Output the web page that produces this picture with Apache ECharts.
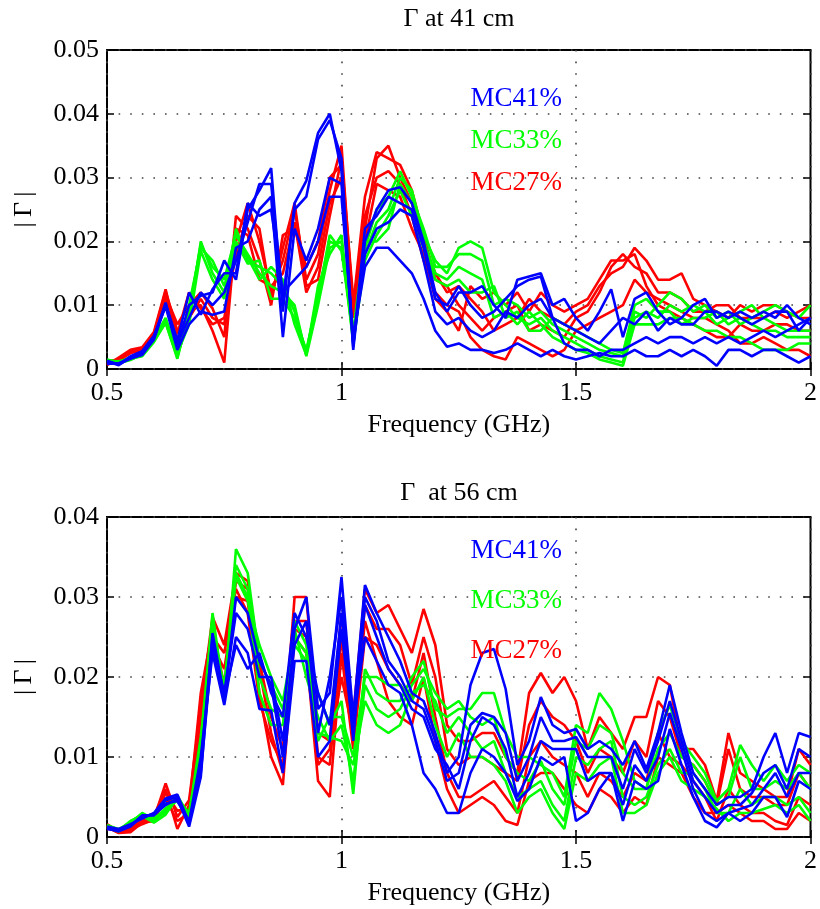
<!DOCTYPE html>
<html>
<head>
<meta charset="utf-8">
<script src="https://cdn.jsdelivr.net/npm/echarts@6/dist/echarts.min.js"></script>
<style>
html,body{margin:0;padding:0;background:#fff;}
#chart{width:820px;height:909px;}
</style>
</head>
<body>
<div id="chart"></div>
<script>
// Frequency axis (GHz)
const freqGHz = [0.5,0.525,0.55,0.575,0.6,0.625,0.65,0.675,0.7,0.725,0.75,0.775,0.8,0.825,0.85,0.875,0.9,0.925,0.95,0.975,1,
1.025,1.05,1.075,1.1,1.125,1.15,1.175,1.2,1.225,1.25,1.275,1.3,1.325,1.35,1.375,1.4,1.425,1.45,1.475,1.5,
1.525,1.55,1.575,1.6,1.625,1.65,1.675,1.7,1.725,1.75,1.775,1.8,1.825,1.85,1.875,1.9,1.925,1.95,1.975,2];

// |Gamma| values in units of 1e-3 — top panel (41 cm)
const top41_MC41_a = [1.2,0.6,1.8,2.5,5,10.4,3.5,10,11.5,12, 17,14,25,28,31.5,9,26,29.5,37,40, 31,3,20,25,28,28.5,26,20,12,9, 12,12,13,10,8,14,14.5,15,10,11, 8,6,9,12.5,5,11,12,9,7,8, 10,11,8,9,8,7,8,9,9,6, 8];
const top41_MC41_b = [1.0,0.8,1.6,2.3,4.6,10,4,8,12,10, 12,17,23,29,29,11,25,27,36,39, 33,3.5,22,24,27,26,25,19,11,10, 13,10,8,9,11,13,14,14.5,8,7, 6,5,4,6,8,7,9,6,8,7, 7,9,9,8,9,8,9,8,10,8, 7];
const top41_MC41_c = [1.3,0.7,2.0,2.8,5.2,9.8,3,7,9,8.5, 9,19,20,25,27,5,22,17,22,30, 29,4,18,22,23,25,24,17,9,7, 8,6,5,6,9,8,10,11,8,4, 3,3,2,3,3,4,5,4,5,5, 4,5,4,5,4,5,6,5,6,7, 8];
const top41_MC41_d = [0.8,0.9,1.7,2.2,4.8,10.2,4.5,12,8.5,12.5, 15,15,26,24,25,12,14,16,20,27, 27,5,16,19,19,17,15,11,6,3.5, 4,3,3,2.5,3,4,3,2,3,2, 1.5,2,2.5,2,2,3,2,2,3,2, 3,2,0.5,3,3,2,3,3,2,1, 2];

const top41_MC33_a = [1.5,1.0,1.5,2.2,4.5,7.8,2,8,20,15, 12,22,17,16,15,13,9,2.5,12,20, 19,4.5,18,23,25,30,28,21,17,15, 19,20,19,12,10,8,7,8,6,5, 4,3,2,1.5,1,9,8,10,12,11, 9,10,8,9,7,8,9,10,9,8, 10];
const top41_MC33_b = [1.3,1.2,1.6,2.0,4.2,7.4,1.6,9,19.5,16, 14,21,18,15,13,12,10,2,10,19, 20,5,19,25,27,31,27,22,16,16, 18,18,17,10,11,10,8,9,7,6, 5,4,3,2.5,2,8,9,8,10,9, 10,9,7,8,9,10,8,7,6,6, 6];
const top41_MC33_c = [1.2,0.9,1.4,2.4,4.8,8,2.5,7,18.5,14, 11,20,16.5,17,11,11,8,3,11,21, 18.5,6,20,20,22,29,26,20,15,14, 16,15,14,8,9,7,9,7,5,4, 3,2.5,1.5,1,0.5,7,7,7,8,8, 7,6,6,5,5,4,3,3,3,4, 4];
const top41_MC33_d = [1.4,1.1,1.8,2.1,4.4,7.2,1.8,10,19,17, 13,19.5,17.5,14,16,14,7,2.2,13,18, 21,4,17,21,24,28,24,19,14,13, 14,12,12,13,8,9,6,6,8,7, 6,5,4,3,2.5,10,11,9,9,7, 8,8,9,7,8,7,6,6,5,5, 5];

const top41_MC27_a = [0.8,1.6,2.8,3.2,5.5,12.2,6,8,11,8, 7,20,26,20,12,17,25,14,18,28, 35,9,22,33,35,30,26,20,15,12, 13,11,9,6,7,8,11,9,8,7, 9,10,13,15,16,19,17,14,14,15, 11,10,9,8,10,9,10,10,9,8, 8];
const top41_MC27_b = [1.0,1.3,2.5,3.0,5.0,11.5,7,10,12,9.5, 5,24,22,17,10,21,22,16,20,30, 32,10,27,34,33,32,28,21,14,13, 10,8,6,8,9,10,6,7,6,5, 8,9,12,16,18,16,15,12,12,11, 9,9,10,10,8,8,8,9,8,9, 10];
const top41_MC27_c = [0.6,1.8,3.0,3.4,5.8,12.5,4.5,9,10,6, 1,22,21,14,13,15,23,12,16,26, 30,8,24,30,31,29,24,17,12,10, 9,5,3,2,1.5,5,4,3,2,3, 6,7,8,9,10,14,12,11,10,9, 8,8,7,6,4,4,5,4,3,3, 2];
const top41_MC27_d = [1.2,1.5,2.6,2.9,5.2,11,5.5,12,9.5,7, 8,18,24,22,11,19,26,13,14,24, 33,11,20,29,28,27,22,18,11,9, 6,13,11,12,10,12,9,12,10,9, 10,11,14,17,17,18,13,10,9,8, 7,6,5,5,7,6,6,7,7,6, 6];

// |Gamma| values in units of 1e-3 — bottom panel (56 cm)
const bot56_MC41_a = [1.2,0.9,1.5,2.5,2.9,4.6,5,1.5,9,25, 17,30,28,22,19,10,26,30,16,18, 32.5,15,31.5,28,25,22,18,17,13,8, 10,19,23,23.5,18.5,9,12,17.5,14,13, 13.5,11,12,11,9,12,8.5,13,19,13, 8,6,4,5,5,6,10,13,8,13, 12.5];
const bot56_MC41_b = [1.0,0.8,1.4,2.7,2.7,4.2,4.5,2,8,24, 18,28,26,20,20,12,24,27,13,20, 30,12,30,27,22,20,17,16,12,7, 8,14,15.5,15,13,7,10,15,12,12, 12.5,10,10,10,6,11,8,12,17,12, 7,5,3,4,4,5.5,8,9,6,11, 10];
const bot56_MC41_c = [1.3,1.0,1.6,2.3,3.0,4.8,5.3,1.8,10,23, 16.5,25,23,16,15.8,8,22,22,10,12, 26,13,29,25,21,19,16,15,11,9, 6,12,15,14,11,5,8,12,11,11, 11,7,8,8,4,9,7,10,15.5,11, 6,3,2,3,3.5,4,6,8,5,8, 8];
const bot56_MC41_d = [1.1,0.7,1.3,2.6,2.8,4.0,4.8,1.3,7.5,25.5, 17.5,24,21,23,18,15,28,25,18,14, 28,14,25,22,19,18,14,8,6,3, 3,8,11,10,8,4.5,6,10,9,10, 2,3,6,8,2,7,6,7,13.5,9, 5,2,1.2,3,2,3,5,5,2.5,7, 6];

const bot56_MC33_a = [1.5,0.9,1.9,2.9,2.0,3.3,5.2,2.5,12,28, 17.5,36,33,22,19,16,24,22,18,14, 17,5.4,21,18,17,17,20,22,16,15, 16,16,18,18,13,10,10,9,8,5, 14,13,18,16,12,7,6,13,16.5,12, 10,8,4.5,6,11.5,9,7,9,7,9, 8];
const bot56_MC33_b = [1.3,0.8,2.0,2.7,2.5,3.0,4.8,3.0,11,27, 18,34,31,20,16,15,26,20,15,12, 14,7,19,16,15,16,19,21,18,16, 17,15,14,15,10,8,7,9.5,6,4, 12,11,14,13,8,6,6,11,13,10, 9,7,4,5,10,6,6,7,6,8, 6];
const bot56_MC33_c = [1.4,1.0,1.7,3.0,2.2,3.6,4.5,2.2,10,26, 17,33,30,18,14,14,27,24,13,12.5, 12,9,17,14,13,14,18,19,17,13, 15,13,11,12,8,5,6,7,4,2, 10,9,11,12,5,4,5,9,11,8, 8,6,3,3,6,4,5,5,4,5, 3];
const bot56_MC33_d = [1.2,0.7,1.8,2.6,1.8,2.8,5.0,2.8,12.5,25, 19,32.5,29.5,24,20,17,25,23,12,15, 15,10,20,20,19,19,17,20,14,10, 13,10,10,9,7,3,5,6,3,1, 8,7,9,10,3,3,4,8,10,7, 6,5,3.5,2,3,3,3.5,4,3,4, 2];

const bot56_MC27_a = [1.6,0.7,0.8,2.0,2.3,6.7,2.5,4.6,16,27.5, 24,33,32,22,15,11,30,30,13,12, 28,15,31,28,29,26,23,28.5,24,14, 12,12,13,13,10,8,18,20.5,18,20, 17,11,15,13,11,15,15,20,19,11, 11,9,4.5,13,8,7,6,5,5,11, 9];
const bot56_MC27_b = [1.2,0.5,0.6,1.8,2.0,5.5,3.3,3.5,18,26, 19,32,31,21,13,8,27,27,10,9, 25,12,29,26,26,24,19,25,20,11, 9,10,10,9,8,7,14,17,15,14, 12,8,11,10,8,12,10,17,15,10, 9,7,4,11,6,5,5,4,4,8, 6];
const bot56_MC27_c = [1.0,0.9,1.0,2.2,2.6,6.0,1.0,4.0,15,24, 21,30,29.5,18,10,6.5,25,23,7,5, 23,11,25,24,21,19,17,23,15,8, 5,5,6,7,5,3,10,12,10,9, 8,5,8,7,5,8,7,13,10,9, 7,5,2,6,4,3,3,2,1.5,5, 4];
const bot56_MC27_d = [1.4,0.6,0.9,1.6,2.2,4.8,2.0,3.0,13,25, 23,31,28,17,12,9,26,25,9,11, 20,13,27,22,17,15,14,20,12,6, 3,4,5,4,2,1.5,7,8,8,6, 4,3,6,5,3,5,4,10,9,8, 5,3,3,4,3,2,2,1,1,3, 2];

// Tick labels
const xTickLabels = ['0.5','1','1.5','2'];
const topYTickLabels = ['0','0.01','0.02','0.03','0.04','0.05'];
const botYTickLabels = ['0','0.01','0.02','0.03','0.04'];
const panelTitles = ['\u0393 at 41 cm', '\u0393  at 56 cm'];
const legendNames = ['MC41%','MC33%','MC27%'];
const legendColors = ['#0000ff','#00ff00','#ff0000'];

const FONT = 'Liberation Serif';

function mkSeries(arrs, name, color, gi) {
  return arrs.map(a => ({
    type: 'line', name: name,
    xAxisIndex: gi * 2, yAxisIndex: gi * 2,
    data: freqGHz.map((f, i) => [f, a[i]]),
    symbol: 'none', showSymbol: false,
    lineStyle: { color: color, width: 2.6 },
    itemStyle: { color: color },
    animation: false
  }));
}

const series = [].concat(
  mkSeries([top41_MC27_a, top41_MC27_b, top41_MC27_c, top41_MC27_d], legendNames[2], legendColors[2], 0),
  mkSeries([top41_MC33_a, top41_MC33_b, top41_MC33_c, top41_MC33_d], legendNames[1], legendColors[1], 0),
  mkSeries([top41_MC41_a, top41_MC41_b, top41_MC41_c, top41_MC41_d], legendNames[0], legendColors[0], 0),
  mkSeries([bot56_MC27_a, bot56_MC27_b, bot56_MC27_c, bot56_MC27_d], legendNames[2], legendColors[2], 1),
  mkSeries([bot56_MC33_a, bot56_MC33_b, bot56_MC33_c, bot56_MC33_d], legendNames[1], legendColors[1], 1),
  mkSeries([bot56_MC41_a, bot56_MC41_b, bot56_MC41_c, bot56_MC41_d], legendNames[0], legendColors[0], 1)
);

const dotted = { show: true, lineStyle: { color: '#444', width: 1.6, type: [1.6, 10] } };
const tickIn = { show: true, inside: true, length: 7, lineStyle: { color: '#000', width: 1.5 } };
const labelStyle = { fontFamily: FONT, fontSize: 26, color: '#000' };

function xAxes(gi) {
  return [
    { type: 'value', gridIndex: gi, position: 'bottom', min: 0.5, max: 2, interval: 0.5,
      axisLine: { show: false }, axisTick: tickIn, splitLine: dotted,
      axisLabel: Object.assign({ margin: 11, formatter: v => xTickLabels[Math.round((v - 0.5) / 0.5)] }, labelStyle),
      name: 'Frequency (GHz)', nameLocation: 'middle', nameGap: 43,
      nameTextStyle: labelStyle },
    { type: 'value', gridIndex: gi, position: 'top', min: 0.5, max: 2, interval: 0.5,
      axisLine: { show: false }, axisTick: tickIn, splitLine: { show: false },
      axisLabel: { show: false } }
  ];
}
function yAxes(gi, max, labels) {
  return [
    { type: 'value', gridIndex: gi, position: 'left', min: 0, max: max, interval: 10,
      axisLine: { show: false }, axisTick: tickIn, splitLine: dotted,
      axisLabel: Object.assign({ margin: 8, formatter: v => labels[Math.round(v / 10)] }, labelStyle),
      name: '|\u2009\u0393\u2009|', nameLocation: 'middle', nameRotate: 90, nameGap: 70,
      nameTextStyle: labelStyle },
    { type: 'value', gridIndex: gi, position: 'right', min: 0, max: max, interval: 10,
      axisLine: { show: false }, axisTick: tickIn, splitLine: { show: false },
      axisLabel: { show: false } }
  ];
}

function legendFor(top, gap) {
  return {
    orient: 'vertical', right: 258, top: top, padding: 0,
    icon: 'none', itemWidth: 0, itemHeight: 26, itemGap: gap,
    selectedMode: false,
    textStyle: { fontFamily: FONT, fontSize: 27, lineHeight: 26, padding: 0 },
    data: legendNames.map((n, k) => ({ name: n, textStyle: { color: legendColors[k] } }))
  };
}

const chart = echarts.init(document.getElementById('chart'), null, { renderer: 'canvas' });
chart.setOption({
  backgroundColor: '#fff',
  animation: false,
  title: [
    { text: panelTitles[0], left: 459, top: 6, textAlign: 'center', padding: 0,
      textStyle: { fontFamily: FONT, fontSize: 26, fontWeight: 'normal', color: '#000' } },
    { text: panelTitles[1], left: 459, top: 480, textAlign: 'center', padding: 0,
      textStyle: { fontFamily: FONT, fontSize: 26, fontWeight: 'normal', color: '#000' } }
  ],
  legend: [legendFor(85, 15), legendFor(537, 23)],
  grid: [
    { left: 107, top: 50, width: 704, height: 319, show: true, borderColor: '#000', borderWidth: 2, backgroundColor: 'rgba(0,0,0,0)' },
    { left: 107, top: 517, width: 704, height: 320, show: true, borderColor: '#000', borderWidth: 2, backgroundColor: 'rgba(0,0,0,0)' }
  ],
  xAxis: [].concat(xAxes(0), xAxes(1)),
  yAxis: [].concat(yAxes(0, 50, topYTickLabels), yAxes(1, 40, botYTickLabels)),
  series: series
});
</script>
</body>
</html>
